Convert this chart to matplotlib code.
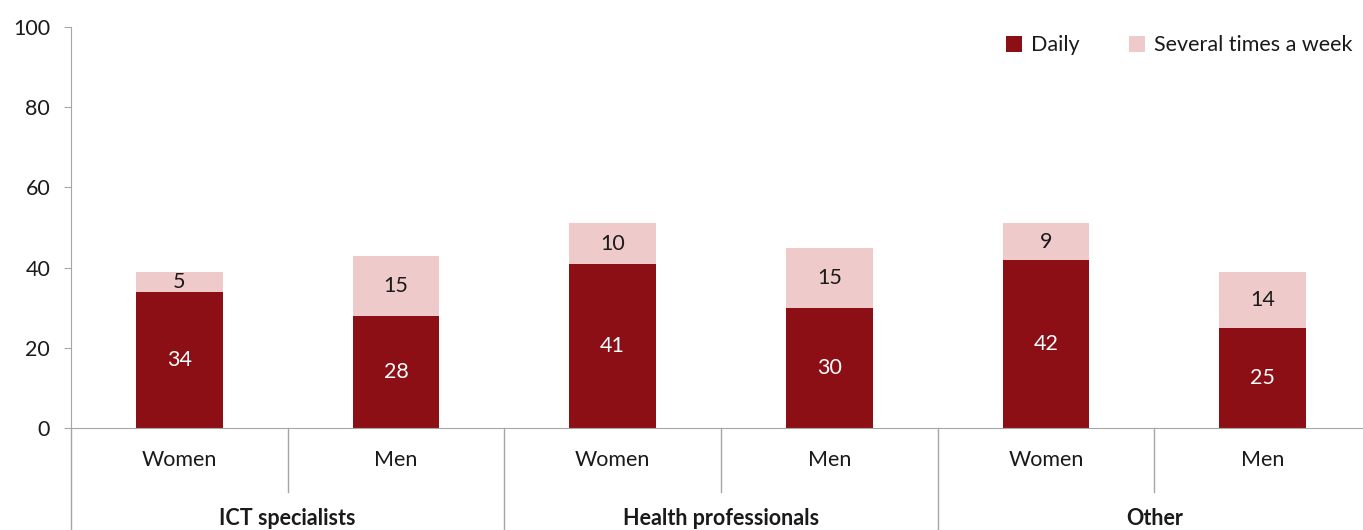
import matplotlib.pyplot as plt
import numpy as np

# values
groups = ["ICT specialists", "Health professionals", "Other"]
sexes = ["Women", "Men", "Women", "Men", "Women", "Men"]
daily = [34, 28, 41, 30, 42, 25]
weekly = [5, 15, 10, 15, 9, 14]

dark_red = "#8B0F14"
pink = "#EFCACA"
grey = "#A6A6A6"
txt = "#1a1a1a"

plt.rcParams['font.family'] = ['Lato', 'DejaVu Sans']
plt.rcParams['font.size'] = 15.5

fig = plt.figure(figsize=(13.63, 5.3), dpi=100)
ax = fig.add_axes([71 / 1363, 102 / 530, 1300 / 1363, 401 / 530])

x = np.arange(len(sexes))
b1 = ax.bar(x, daily, width=0.4, color=dark_red, label="Daily")
b2 = ax.bar(x, weekly, width=0.4, bottom=daily, color=pink, label="Several times a week")

for i in range(len(x)):
    ax.text(x[i], daily[i] / 2, str(daily[i]), ha="center", va="center", color="white")
    ax.text(x[i], daily[i] + weekly[i] / 2, str(weekly[i]), ha="center", va="center", color=txt)

ax.set_xlim(-0.5, 5.5)
ax.set_ylim(0, 100)
ax.set_yticks(range(0, 101, 20))
ax.tick_params(axis="y", length=5, color=grey, labelcolor=txt, pad=10)
ax.set_xticks([])

for s in ["top", "right"]:
    ax.spines[s].set_visible(False)
ax.spines["left"].set_color(grey)
ax.spines["bottom"].set_color(grey)
ax.spines["left"].set_bounds(0, 100)

tr = ax.get_xaxis_transform()
# left axis continues below zero
ax.plot([-0.5, -0.5], [0, -0.26], transform=tr, color=grey, lw=1, clip_on=False)
for xs in [0.5, 2.5, 4.5]:
    ax.plot([xs, xs], [0, -0.16], transform=tr, color=grey, lw=1, clip_on=False)
for xs in [1.5, 3.5]:
    ax.plot([xs, xs], [0, -0.26], transform=tr, color=grey, lw=1, clip_on=False)

for i, s in enumerate(sexes):
    ax.text(x[i], -0.08, s, transform=tr, ha="center", va="center", color=txt)
for g, name in enumerate(groups):
    ax.text(2 * g + 0.5, -0.225, name, transform=tr, ha="center", va="center",
            color=txt, fontweight="bold")

ax.legend(loc="upper right", bbox_to_anchor=(1.003, 0.962),
          bbox_transform=fig.transFigure, frameon=False, ncol=2,
          handlelength=0.75, handleheight=0.75, handletextpad=0.4,
          columnspacing=2.3, labelcolor=txt, borderpad=0.2)

fig.savefig("out.png", dpi=100)
